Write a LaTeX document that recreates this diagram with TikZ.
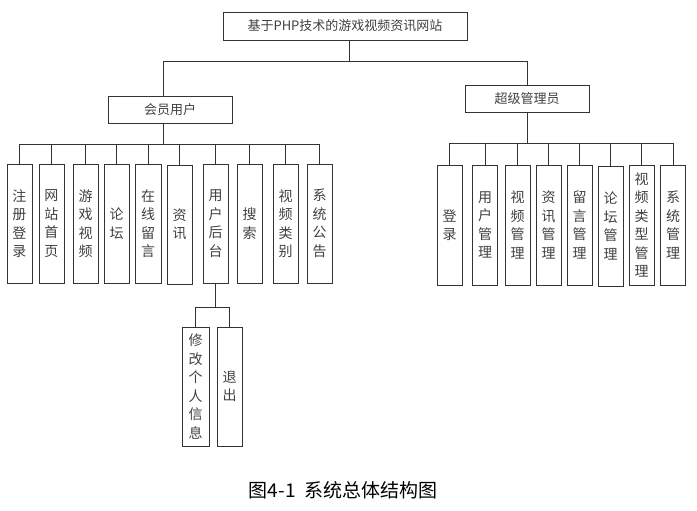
\documentclass[tikz,border=0pt]{standalone}
\usepackage{fontspec}
\setmainfont{Noto Sans CJK SC}
\usetikzlibrary{positioning,calc}

\begin{document}
\begin{tikzpicture}[
  x=1pt,y=-1pt,
  font=\fontsize{13}{16}\selectfont,
  box/.style={draw=black!80,thick,align=center,inner sep=2pt,text=black!75,
    minimum height=27pt,minimum width=124pt},
  vbox/.style={draw=black!80,thick,align=center,inner sep=0pt,text=black!75,
    text width=14pt,minimum width=25pt,minimum height=119pt,
    font=\fontsize{14}{18.5}\selectfont},
  link/.style={black!80,thick}
]
\useasboundingbox (0,0) rectangle (697,511);

\node[box,minimum width=244pt,minimum height=28pt] (site) at (345,26)
  {基于PHP技术的游戏视频资讯网站};
\node[box] (member) at (170,109.5) {会员用户};
\node[box] (admin) at (527,98.5) {超级管理员};

% member side
\node[vbox] (m1) at (19.5,223.5) {注\\册\\登\\录};
\node[vbox] (m2) at (51.5,223.5) {网\\站\\首\\页};
\node[vbox] (m3) at (85.5,223.5) {游\\戏\\视\\频};
\node[vbox] (m4) at (116.5,223.5) {论\\坛};
\node[vbox,minimum width=26pt] (m5) at (148,223.5) {在\\线\\留\\言};
\node[vbox] (m6) at (179.5,224.5) {资\\讯};
\node[vbox] (m7) at (215.5,223.5) {用\\户\\后\\台};
\node[vbox] (m8) at (249.5,223.5) {搜\\索};
\node[vbox] (m9) at (285.5,223.5) {视\\频\\类\\别};
\node[vbox] (m10) at (319.5,223.5) {系\\统\\公\\告};

\node[vbox,minimum width=27pt] (info) at (195.5,386.5) {修\\改\\个\\人\\信\\息};
\node[vbox] (quit) at (229.5,386.5) {退\\出};

% admin side
\node[vbox,minimum height=120pt] (a1) at (449.5,225) {登\\录};
\node[vbox,minimum height=120pt] (a2) at (485,225) {用\\户\\管\\理};
\node[vbox,minimum height=120pt] (a3) at (517.5,225) {视\\频\\管\\理};
\node[vbox,minimum height=120pt] (a4) at (548.5,225) {资\\讯\\管\\理};
\node[vbox,minimum height=120pt] (a5) at (579.5,225) {留\\言\\管\\理};
\node[vbox,minimum height=120pt] (a6) at (610.5,226) {论\\坛\\管\\理};
\node[vbox,minimum height=120pt] (a7) at (641.5,225) {视\\频\\类\\型\\管\\理};
\node[vbox,minimum height=120pt] (a8) at (673,225) {系\\统\\管\\理};

\coordinate (tdrop) at ([xshift=4pt]site.south);
\coordinate (mdrop) at ([xshift=-7pt]member.south);
\coordinate (tbar) at ([yshift=-21pt]tdrop);
\coordinate (mbar) at ([yshift=-21pt]mdrop);
\coordinate (abar) at ([yshift=-31pt]admin.south);
\coordinate (ubar) at ([yshift=-24pt]m7.south);

\draw[link] (tdrop) -- (tbar);
\draw[link] (tbar) -| ([xshift=-7pt]member.north) (tbar) -| (admin.north);
\draw[link] (mdrop) -- (mbar);
\draw[link] (mbar) -| (m1.north) (mbar) -| (m2.north) (mbar) -| (m3.north)
  (mbar) -| (m4.north) (mbar) -| (m5.north) (mbar) -| (m6.north)
  (mbar) -| (m7.north) (mbar) -| (m8.north) (mbar) -| (m9.north)
  (mbar) -| (m10.north);
\draw[link] (m7.south) -- (ubar);
\draw[link] (ubar) -| (info.north) (ubar) -| (quit.north);
\draw[link] (admin.south) -- (abar);
\draw[link] (abar) -| (a1.north) (abar) -| (a2.north) (abar) -| (a3.north)
  (abar) -| (a4.north) (abar) -| (a5.north) (abar) -| (a6.north)
  (abar) -| (a7.north) (abar) -| (a8.north);

\node[font=\fontsize{19}{22}\selectfont] (caption) at (343,490)
  {图4-1\ \ 系统总体结构图};
\end{tikzpicture}
\end{document}
